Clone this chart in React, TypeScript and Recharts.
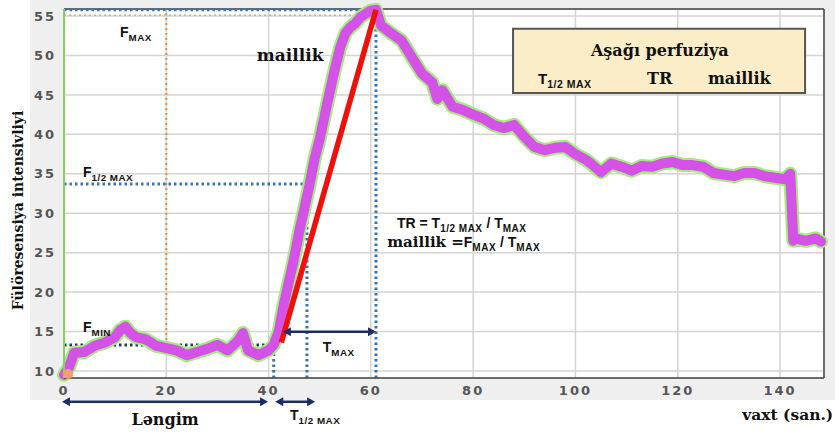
import {
    LineChart,
    Line,
    XAxis,
    YAxis,
    CartesianGrid,
    ReferenceLine,
    ReferenceArea,
    ReferenceDot,
} from "recharts";

// seconds
const time = [
    0, 1, 2, 4, 6, 8, 10, 11, 12, 13, 14, 16, 18, 20, 22, 24, 26, 28, 30, 32, 34, 35, 36, 38, 40, 41,
    42, 43, 44, 45, 46, 47, 48, 49, 50, 51, 52, 53, 54, 55, 56, 57, 58, 59, 60, 61,
    62, 64, 66, 68, 70, 72, 73, 74, 76, 78, 80, 82, 84, 86, 88, 90, 92, 94, 96, 98, 100, 102,
    103, 105, 107, 109, 111, 113, 115, 117, 119, 121, 123, 125, 127, 129, 131, 133, 135, 137, 139, 141, 142,
    142.6, 143, 145, 147, 148,
];

const intensity = [
    9.5, 10.5, 12.3, 12.4, 13.2, 13.6, 14.3, 15.2, 15.6, 14.8, 14.3, 14.0, 13.2, 12.9, 12.6, 12.0, 12.4, 12.8, 13.3, 12.6, 13.8, 14.8, 12.6, 12.0, 12.6, 13.3,
    15.0, 18.5, 21.4, 24.3, 27.7, 30.6, 33.6, 36.9, 39.4, 42.5, 45.5, 48.4, 51.0, 52.8, 53.6, 54.1, 54.9, 55.3, 55.7, 55.8,
    53.8, 52.8, 51.9, 49.8, 47.7, 46.6, 44.5, 45.6, 43.5, 43.1, 42.5, 42.0, 41.2, 40.8, 41.2, 39.7, 38.4, 38.0, 38.3, 38.4, 37.5, 36.8,
    36.3, 35.2, 36.3, 35.9, 35.4, 36.0, 35.9, 36.3, 36.5, 36.1, 36.1, 35.9, 35.1, 34.9, 34.7, 35.1, 35.1, 34.7, 34.5, 34.3, 35.0,
    26.5, 26.8, 26.5, 26.8, 26.4,
];

const xTicks = [0, 20, 40, 60, 80, 100, 120, 140];
const yTicks = [10, 15, 20, 25, 30, 35, 40, 45, 50, 55];

// levels and times marked on the figure
const fMax = 55.8;
const fHalf = 33.7;
const fMin = 13.3;
const tOnset = 41;
const tHalf = 47.5;
const tPeak = 61;

const data = time.map((t, i) => ({ t, v: intensity[i] }));

const X_MAX = 148.6;
const Y_MIN = 9.1;
const Y_MAX = 55.9;

const BLUE = "#3574b4";
const NAVY = "#1b2c66";

const arrow = (color: string) => (p: any) => {
    const { x1, y1, x2, y2 } = p;
    const h = 8;
    return (
        <g>
            <line x1={x1 + 3} y1={y1} x2={x2 - 3} y2={y2} stroke={color} strokeWidth={2.5} />
            <polygon points={`${x1},${y1} ${x1 + h},${y1 - 4.5} ${x1 + h},${y1 + 4.5}`} fill={color} />
            <polygon points={`${x2},${y2} ${x2 - h},${y2 - 4.5} ${x2 - h},${y2 + 4.5}`} fill={color} />
        </g>
    );
};

const sans = "'Liberation Sans', Arial, sans-serif";
const serif = "'DejaVu Serif', 'Liberation Serif', serif";

// text with an optional subscript, anchored at a data point
const note = (main: string, sub?: string, size = 14, family = sans, anchor = "start") => (p: any) => (
    <text
        x={p.cx}
        y={p.cy}
        fontFamily={family}
        fontWeight="bold"
        fontSize={size}
        fill="#111"
        textAnchor={anchor}
    >
        <tspan>{main}</tspan>
        {sub && (
            <tspan fontSize={size * 0.7} dy={4} letterSpacing={0.5}>
                {sub}
            </tspan>
        )}
    </text>
);

// "<lead> X_sub / T_MAX"
const formula = (lead: string, leadFamily: string, leadSize: number, letter: string, sub: string) => (p: any) => (
    <text x={p.cx} y={p.cy} fontWeight="bold" fill="#111">
        <tspan fontFamily={leadFamily} fontSize={leadSize}>{lead}</tspan>
        <tspan fontFamily={sans} fontSize={14}>{letter}</tspan>
        <tspan fontFamily={sans} fontSize={10} dy={4} letterSpacing={0.5}>{sub}</tspan>
        <tspan fontFamily={sans} fontSize={14} dy={-4}> / T</tspan>
        <tspan fontFamily={sans} fontSize={10} dy={4} letterSpacing={0.5}>MAX</tspan>
    </text>
);

const yLabel = (p: any) => {
    const vb = p.viewBox;
    const cx = vb.x + 18;
    const cy = vb.y + vb.height / 2 + 17;
    return (
        <text
            transform={`translate(${cx},${cy}) rotate(-90)`}
            textAnchor="middle"
            dominantBaseline="central"
            fontFamily={serif}
            fontWeight="bold"
            fontSize={14}
            fill="#111"
        >
            Fülöresensiya intensivliyi
        </text>
    );
};

const tickStyle = {
    fill: "#555",
    fontSize: 13,
    fontFamily: "'DejaVu Sans', sans-serif",
    fontWeight: "bold",
    letterSpacing: 2,
};

export default function App() {
    return (
        <div style={{ position: "absolute", left: 0, top: 0, width: 835, height: 433, background: "#fff" }}>
            <div style={{ position: "absolute", left: 30, top: 0, width: 805, height: 400, background: "#efefef" }} />
            <div style={{ position: "absolute", left: 0, top: 0 }}>
                <LineChart width={835} height={433} data={data} margin={{ top: 9, right: 11, left: 0, bottom: 0 }}>
                    <CartesianGrid stroke="#d4d4d4" strokeWidth={1.5} fill="#ffffff" />
                    <XAxis
                        dataKey="t"
                        type="number"
                        domain={[0, X_MAX]}
                        ticks={xTicks}
                        height={55}
                        tick={tickStyle}
                        tickLine={false}
                        tickMargin={2}
                        axisLine={{ stroke: "#444", strokeWidth: 1.5 }}
                    />
                    <YAxis
                        type="number"
                        domain={[Y_MIN, Y_MAX]}
                        ticks={yTicks}
                        width={64}
                        tick={tickStyle}
                        tickLine={false}
                        tickMargin={2}
                        axisLine={{ stroke: "#86d060", strokeWidth: 2 }}
                        label={{ content: yLabel }}
                    />
                    <ReferenceLine x={X_MAX} stroke="#444" strokeWidth={1.5} ifOverflow="visible" />
                    <ReferenceLine y={Y_MAX} stroke="#444" strokeWidth={1.5} ifOverflow="visible" />

                    {/* legend box */}
                    <ReferenceArea x1={87.8} x2={144.9} y1={45.25} y2={53.4} fill="#faedc8" fillOpacity={1} stroke="#555" strokeWidth={2} ifOverflow="visible" />
                    <ReferenceDot x={116.5} y={49.9} r={1} ifOverflow="visible" shape={note("Aşağı perfuziya", undefined, 16, serif, "middle")} />
                    <ReferenceDot x={92.7} y={46.4} r={1} ifOverflow="visible" shape={note("T", "1/2 MAX", 15)} />
                    <ReferenceDot x={114} y={46.4} r={1} ifOverflow="visible" shape={note("TR", undefined, 16, serif)} />
                    <ReferenceDot x={125.9} y={46.4} r={1} ifOverflow="visible" shape={note("maillik", undefined, 16, serif)} />

                    {/* guide lines */}
                    <ReferenceLine segment={[{ x: 20, y: fMin }, { x: 20, y: fMax }]} stroke="#e38b45" strokeWidth={2} strokeDasharray="2 3" ifOverflow="visible" />
                    <ReferenceLine segment={[{ x: 0, y: 55.1 }, { x: tPeak, y: 55.1 }]} stroke="#e8a66e" strokeWidth={1.5} strokeDasharray="2 3" ifOverflow="visible" />
                    <ReferenceLine segment={[{ x: 0, y: fMax }, { x: tPeak, y: fMax }]} stroke={BLUE} strokeWidth={3} strokeDasharray="2.5 3" ifOverflow="visible" />
                    <ReferenceLine segment={[{ x: tPeak, y: Y_MIN }, { x: tPeak, y: fMax }]} stroke={BLUE} strokeWidth={3} strokeDasharray="2.5 3" ifOverflow="visible" />
                    <ReferenceLine segment={[{ x: 0, y: fHalf }, { x: tHalf, y: fHalf }]} stroke={BLUE} strokeWidth={3} strokeDasharray="2.5 3" ifOverflow="visible" />
                    <ReferenceLine segment={[{ x: tHalf, y: Y_MIN }, { x: tHalf, y: fHalf }]} stroke={BLUE} strokeWidth={3} strokeDasharray="2.5 3" ifOverflow="visible" />
                    <ReferenceLine segment={[{ x: tOnset, y: Y_MIN }, { x: tOnset, y: fMin }]} stroke={BLUE} strokeWidth={3} strokeDasharray="2.5 3" ifOverflow="visible" />
                    <ReferenceLine segment={[{ x: 0, y: fMin }, { x: tOnset, y: fMin }]} stroke="#1d3f55" strokeWidth={3} strokeDasharray="2.5 3" ifOverflow="visible" />

                    <ReferenceDot x={0.8} y={9.6} r={5} fill="#f0a070" stroke="none" ifOverflow="visible" />

                    {/* intensity curve: green halo under magenta trace */}
                    <Line dataKey="v" type="linear" stroke="#a3ec7c" strokeWidth={14} strokeLinejoin="round" strokeLinecap="round" dot={false} isAnimationActive={false} />
                    <Line dataKey="v" type="linear" stroke="#d452e8" strokeWidth={10} strokeLinejoin="round" strokeLinecap="round" dot={false} isAnimationActive={false} />

                    {/* slope */}
                    <ReferenceLine segment={[{ x: 42.5, y: 13.6 }, { x: tPeak, y: fMax }]} stroke="#ee1109" strokeWidth={5.5} ifOverflow="visible" />
                    <ReferenceLine segment={[{ x: 42.8, y: 14.96 }, { x: tPeak, y: 14.96 }]} shape={arrow(NAVY)} ifOverflow="visible" />
                    <ReferenceLine segment={[{ x: -0.4, y: 6.09 }, { x: 39.9, y: 6.09 }]} shape={arrow(NAVY)} ifOverflow="visible" />
                    <ReferenceLine segment={[{ x: 41.3, y: 6.09 }, { x: 49.1, y: 6.09 }]} shape={arrow(NAVY)} ifOverflow="visible" />

                    {/* annotations */}
                    <ReferenceDot x={10.95} y={52.35} r={1} ifOverflow="visible" shape={note("F", "MAX")} />
                    <ReferenceDot x={37.7} y={49.3} r={1} ifOverflow="visible" shape={note("maillik", undefined, 17, serif)} />
                    <ReferenceDot x={3.7} y={34.6} r={1} ifOverflow="visible" shape={note("F", "1/2 MAX")} />
                    <ReferenceDot x={3.7} y={14.95} r={1} ifOverflow="visible" shape={note("F", "MIN")} />
                    <ReferenceDot x={50.6} y={12.4} r={1} ifOverflow="visible" shape={note("T", "MAX")} />
                    <ReferenceDot x={65.1} y={28.1} r={1} ifOverflow="visible" shape={formula("TR = ", sans, 14, "T", "1/2 MAX")} />
                    <ReferenceDot x={63.2} y={25.7} r={1} ifOverflow="visible" shape={formula("maillik =", serif, 15, "F", "MAX")} />
                    <ReferenceDot x={19.75} y={3.2} r={1} ifOverflow="visible" shape={note("Ləngim", undefined, 16, serif, "middle")} />
                    <ReferenceDot x={44.2} y={3.8} r={1} ifOverflow="visible" shape={note("T", "1/2 MAX")} />
                    <ReferenceDot x={150.4} y={3.8} r={1} ifOverflow="visible" shape={note("vaxt (san.)", undefined, 15.5, serif, "end")} />
                </LineChart>
            </div>
        </div>
    );
}
